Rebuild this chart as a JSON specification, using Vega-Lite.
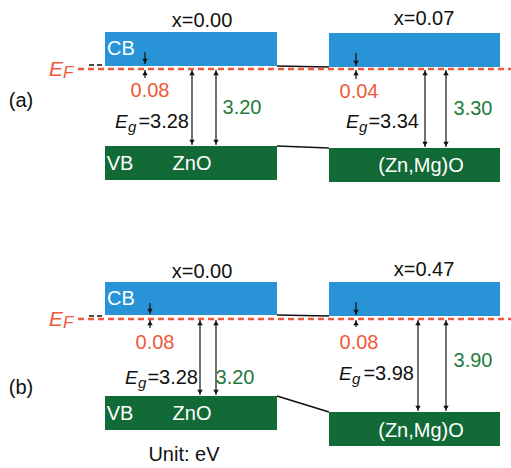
{
  "$schema": "https://vega.github.io/schema/vega-lite/v6.json",
  "width": 511,
  "height": 468,
  "autosize": "none",
  "padding": 0,
  "background": "white",
  "config": {"view": {"stroke": null}, "text": {"font": "Liberation Sans"}},
  "datasets": {
    "bands": [
      {"panel": "a", "band": "CB", "x": 105, "x2": 277, "y": 32, "y2": 66},
      {"panel": "a", "band": "VB", "x": 105, "x2": 277, "y": 146, "y2": 180},
      {"panel": "a", "band": "CB", "x": 329, "x2": 500, "y": 33, "y2": 67},
      {"panel": "a", "band": "VB", "x": 329, "x2": 500, "y": 148, "y2": 182},
      {"panel": "b", "band": "CB", "x": 105, "x2": 277, "y": 282, "y2": 315},
      {"panel": "b", "band": "VB", "x": 105, "x2": 277, "y": 396, "y2": 430},
      {"panel": "b", "band": "CB", "x": 329, "x2": 500, "y": 282, "y2": 316},
      {"panel": "b", "band": "VB", "x": 329, "x2": 500, "y": 412, "y2": 446}
    ],
    "links": [
      {"x": 277, "y": 66, "x2": 329, "y2": 67},
      {"x": 277, "y": 146, "x2": 329, "y2": 148},
      {"x": 277, "y": 315, "x2": 329, "y2": 316},
      {"x": 277, "y": 396, "x2": 329, "y2": 412}
    ],
    "fermi": [
      {"x": 78, "x2": 511, "y": 69},
      {"x": 78, "x2": 511, "y": 319}
    ],
    "ticks": [
      {"x": 89, "x2": 104, "y": 65},
      {"x": 89, "x2": 104, "y": 316}
    ],
    "shafts": [
      {"x": 145, "y": 52, "y2": 64}, {"x": 145, "y": 70, "y2": 78},
      {"x": 356, "y": 53, "y2": 66}, {"x": 356, "y": 70, "y2": 79},
      {"x": 150, "y": 303, "y2": 314}, {"x": 150, "y": 320, "y2": 328},
      {"x": 356, "y": 302, "y2": 315}, {"x": 356, "y": 320, "y2": 327},
      {"x": 192, "y": 70, "y2": 145}, {"x": 216, "y": 70, "y2": 145},
      {"x": 425, "y": 70, "y2": 147}, {"x": 446, "y": 70, "y2": 147},
      {"x": 200, "y": 320, "y2": 395}, {"x": 216, "y": 320, "y2": 395},
      {"x": 418, "y": 320, "y2": 411}, {"x": 446, "y": 320, "y2": 411}
    ],
    "heads": [
      {"x": 145, "y": 61, "dir": "down"}, {"x": 145, "y": 73, "dir": "up"},
      {"x": 356, "y": 63, "dir": "down"}, {"x": 356, "y": 73, "dir": "up"},
      {"x": 150, "y": 311, "dir": "down"}, {"x": 150, "y": 323, "dir": "up"},
      {"x": 356, "y": 312, "dir": "down"}, {"x": 356, "y": 323, "dir": "up"},
      {"x": 192, "y": 73, "dir": "up"}, {"x": 192, "y": 142, "dir": "down"},
      {"x": 216, "y": 73, "dir": "up"}, {"x": 216, "y": 142, "dir": "down"},
      {"x": 425, "y": 73, "dir": "up"}, {"x": 425, "y": 144, "dir": "down"},
      {"x": 446, "y": 73, "dir": "up"}, {"x": 446, "y": 144, "dir": "down"},
      {"x": 200, "y": 323, "dir": "up"}, {"x": 200, "y": 392, "dir": "down"},
      {"x": 216, "y": 323, "dir": "up"}, {"x": 216, "y": 392, "dir": "down"},
      {"x": 418, "y": 323, "dir": "up"}, {"x": 418, "y": 408, "dir": "down"},
      {"x": 446, "y": 323, "dir": "up"}, {"x": 446, "y": 408, "dir": "down"}
    ],
    "labels": [
      {"text": "x=0.00", "x": 202, "y": 21, "role": "label"},
      {"text": "x=0.07", "x": 424, "y": 19, "role": "label"},
      {"text": "x=0.00", "x": 202, "y": 272, "role": "label"},
      {"text": "x=0.47", "x": 424, "y": 270, "role": "label"},
      {"text": "(a)", "x": 21, "y": 101, "role": "label"},
      {"text": "(b)", "x": 21, "y": 388, "role": "label"},
      {"text": "CB", "x": 121, "y": 49, "role": "bandlabel"},
      {"text": "CB", "x": 121, "y": 299, "role": "bandlabel"},
      {"text": "VB", "x": 120, "y": 164, "role": "bandlabel"},
      {"text": "VB", "x": 120, "y": 414, "role": "bandlabel"},
      {"text": "ZnO", "x": 192, "y": 164, "role": "bandlabel"},
      {"text": "ZnO", "x": 192, "y": 414, "role": "bandlabel"},
      {"text": "(Zn,Mg)O", "x": 421, "y": 166, "role": "bandlabel"},
      {"text": "(Zn,Mg)O", "x": 421, "y": 431, "role": "bandlabel"},
      {"text": "0.08", "x": 150, "y": 91, "role": "offset"},
      {"text": "0.04", "x": 359, "y": 92, "role": "offset"},
      {"text": "0.08", "x": 155, "y": 343, "role": "offset"},
      {"text": "0.08", "x": 359, "y": 343, "role": "offset"},
      {"text": "3.20", "x": 242, "y": 108, "role": "optical"},
      {"text": "3.30", "x": 473, "y": 109, "role": "optical"},
      {"text": "3.20", "x": 235, "y": 378, "role": "optical"},
      {"text": "3.90", "x": 473, "y": 361, "role": "optical"},
      {"text": "Unit: eV", "x": 184, "y": 455, "role": "label"}
    ],
    "symE": [
      {"text": "E", "x": 115, "y": 122, "role": "label", "kind": "gap"},
      {"text": "E", "x": 346, "y": 122, "role": "label", "kind": "gap"},
      {"text": "E", "x": 125, "y": 378, "role": "label", "kind": "gap"},
      {"text": "E", "x": 339, "y": 374, "role": "label", "kind": "gap"}
    ],
    "symEF": [
      {"text": "E", "x": 49, "y": 70, "role": "offset"},
      {"text": "E", "x": 49, "y": 320, "role": "offset"}
    ],
    "symSub": [
      {"text": "g", "x": 128, "y": 127, "role": "label"},
      {"text": "g", "x": 359, "y": 127, "role": "label"},
      {"text": "g", "x": 138, "y": 383, "role": "label"},
      {"text": "g", "x": 352, "y": 379, "role": "label"}
    ],
    "symSubF": [
      {"text": "F", "x": 63, "y": 73, "role": "offset"},
      {"text": "F", "x": 63, "y": 323, "role": "offset"}
    ],
    "gapVals": [
      {"text": "=3.28", "x": 189, "y": 122, "role": "label"},
      {"text": "=3.34", "x": 419, "y": 122, "role": "label"},
      {"text": "=3.28", "x": 198, "y": 378, "role": "label"},
      {"text": "=3.98", "x": 414, "y": 374, "role": "label"}
    ]
  },
  "layer": [
    {
      "data": {"name": "bands"},
      "mark": {"type": "rect"},
      "encoding": {
        "x": {"field": "x", "type": "quantitative", "scale": {"domain": [0, 511], "nice": false, "zero": false}, "axis": null},
        "x2": {"field": "x2"},
        "y": {"field": "y", "type": "quantitative", "scale": {"domain": [0, 468], "nice": false, "zero": false, "reverse": true}, "axis": null},
        "y2": {"field": "y2"},
        "color": {"field": "band", "type": "nominal", "legend": null,
          "scale": {"domain": ["CB", "VB", "label", "bandlabel", "offset", "optical"], "range": ["#2893d6", "#126a36", "#111111", "#ffffff", "#ef583a", "#1f7a3c"]}}
      }
    },
    {
      "data": {"name": "links"},
      "mark": {"type": "rule", "color": "#111111", "strokeWidth": 1.5},
      "encoding": {
        "x": {"field": "x", "type": "quantitative"},
        "x2": {"field": "x2"},
        "y": {"field": "y", "type": "quantitative"},
        "y2": {"field": "y2"}
      }
    },
    {
      "data": {"name": "fermi"},
      "mark": {"type": "rule", "color": "#ef583a", "strokeWidth": 2.5, "strokeDash": [6, 4]},
      "encoding": {
        "x": {"field": "x", "type": "quantitative"},
        "x2": {"field": "x2"},
        "y": {"field": "y", "type": "quantitative"}
      }
    },
    {
      "data": {"name": "ticks"},
      "mark": {"type": "rule", "color": "#111111", "strokeWidth": 1.5, "strokeDash": [5, 3]},
      "encoding": {
        "x": {"field": "x", "type": "quantitative"},
        "x2": {"field": "x2"},
        "y": {"field": "y", "type": "quantitative"}
      }
    },
    {
      "data": {"name": "shafts"},
      "mark": {"type": "rule", "color": "#111111", "strokeWidth": 1.2},
      "encoding": {
        "x": {"field": "x", "type": "quantitative"},
        "y": {"field": "y", "type": "quantitative"},
        "y2": {"field": "y2"}
      }
    },
    {
      "data": {"name": "heads"},
      "mark": {"type": "point", "filled": true, "color": "#111111", "size": 30, "opacity": 1},
      "encoding": {
        "x": {"field": "x", "type": "quantitative"},
        "y": {"field": "y", "type": "quantitative"},
        "shape": {"field": "dir", "type": "nominal", "legend": null, "scale": {"domain": ["up", "down"], "range": ["triangle-up", "triangle-down"]}}
      }
    },
    {
      "data": {"name": "labels"},
      "mark": {"type": "text", "fontSize": 20, "align": "center", "baseline": "middle"},
      "encoding": {
        "x": {"field": "x", "type": "quantitative"},
        "y": {"field": "y", "type": "quantitative"},
        "text": {"field": "text"},
        "color": {"field": "role", "type": "nominal", "legend": null}
      }
    },
    {
      "data": {"name": "symE"},
      "mark": {"type": "text", "fontSize": 19, "fontStyle": "italic", "align": "left", "baseline": "middle"},
      "encoding": {
        "x": {"field": "x", "type": "quantitative"},
        "y": {"field": "y", "type": "quantitative"},
        "text": {"field": "text"},
        "color": {"field": "role", "type": "nominal", "legend": null}
      }
    },
    {
      "data": {"name": "symEF"},
      "mark": {"type": "text", "fontSize": 21, "fontStyle": "italic", "align": "left", "baseline": "middle"},
      "encoding": {
        "x": {"field": "x", "type": "quantitative"},
        "y": {"field": "y", "type": "quantitative"},
        "text": {"field": "text"},
        "color": {"field": "role", "type": "nominal", "legend": null}
      }
    },
    {
      "data": {"name": "symSub"},
      "mark": {"type": "text", "fontSize": 15, "fontStyle": "italic", "align": "left", "baseline": "middle"},
      "encoding": {
        "x": {"field": "x", "type": "quantitative"},
        "y": {"field": "y", "type": "quantitative"},
        "text": {"field": "text"},
        "color": {"field": "role", "type": "nominal", "legend": null}
      }
    },
    {
      "data": {"name": "symSubF"},
      "mark": {"type": "text", "fontSize": 17, "fontStyle": "italic", "align": "left", "baseline": "middle"},
      "encoding": {
        "x": {"field": "x", "type": "quantitative"},
        "y": {"field": "y", "type": "quantitative"},
        "text": {"field": "text"},
        "color": {"field": "role", "type": "nominal", "legend": null}
      }
    },
    {
      "data": {"name": "gapVals"},
      "mark": {"type": "text", "fontSize": 20, "align": "right", "baseline": "middle"},
      "encoding": {
        "x": {"field": "x", "type": "quantitative"},
        "y": {"field": "y", "type": "quantitative"},
        "text": {"field": "text"},
        "color": {"field": "role", "type": "nominal", "legend": null}
      }
    }
  ]
}
